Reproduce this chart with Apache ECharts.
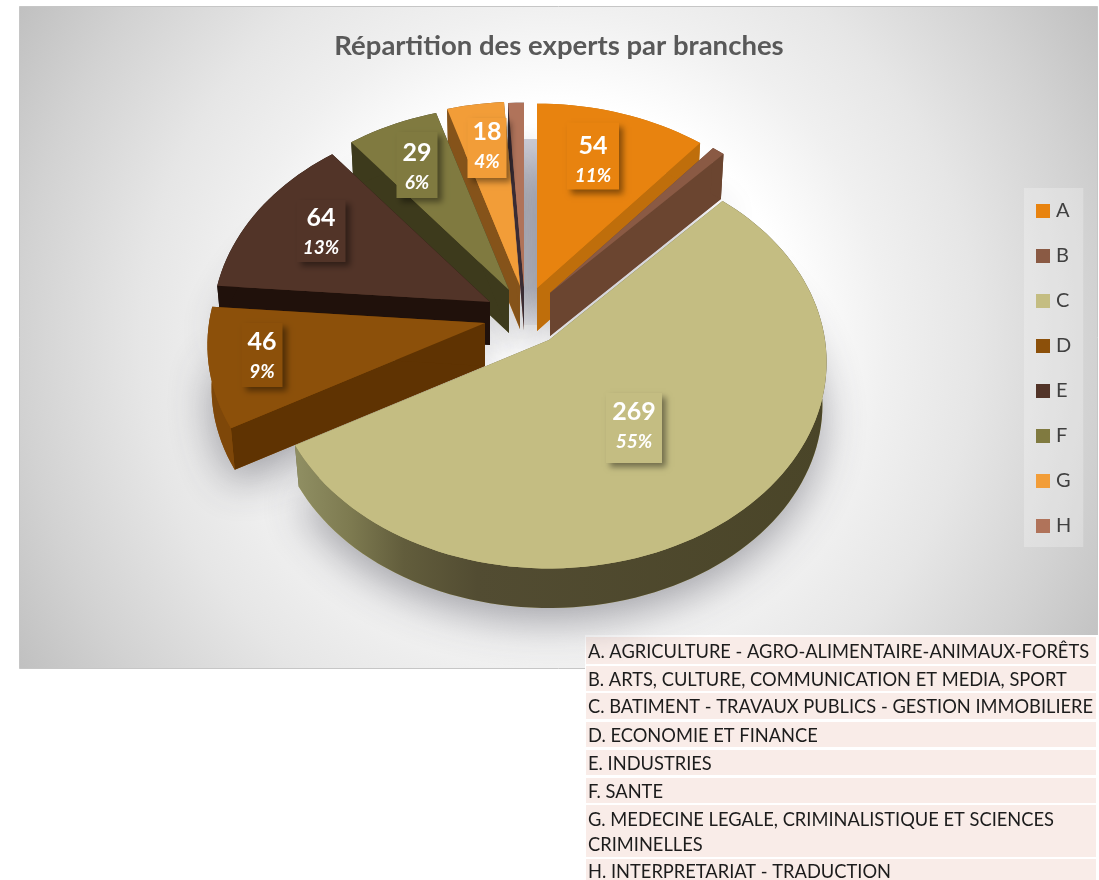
<!DOCTYPE html>
<html><head><meta charset="utf-8">
<style>html,body{margin:0;padding:0;background:#fff}#c{width:1099px;height:880px}</style>
<script src="https://cdn.jsdelivr.net/npm/echarts@6/dist/echarts.min.js"></script>
</head><body><div id="c"></div>
<script>
// ---- data ----
const categories = ['A','B','C','D','E','F','G','H'];
const values = [54,4,269,46,64,29,18,5];
const descriptions = [
 'A. AGRICULTURE - AGRO-ALIMENTAIRE-ANIMAUX-FORÊTS',
 'B. ARTS, CULTURE, COMMUNICATION ET MEDIA, SPORT',
 'C. BATIMENT - TRAVAUX PUBLICS - GESTION IMMOBILIERE',
 'D. ECONOMIE ET FINANCE',
 'E. INDUSTRIES',
 'F. SANTE',
 'G. MEDECINE LEGALE, CRIMINALISTIQUE ET SCIENCES\nCRIMINELLES',
 'H. INTERPRETARIAT - TRADUCTION'
];
const titleText = 'Répartition des experts par branches';
// ---- styles ----
const topColors  = ['#E8830F','#8A5A44','#C4BD82','#8C500A','#523428','#807A40','#F29D38','#B0735A'];
const sideColors = ['#BF6E0B','#6B4530','#6b6642','#5F3302','#20110B','#3D3A1C','#85531A','#3A2C34'];
const rimColors  = ['#BF6E0B','#6B4530','#6b6642','#7E4709','#20110B','#3D3A1C','#85531A','#3A2C34'];
const shifts = [[12,-12],[25,-7],[24,40],[-40,23],[-35,2],[-16,-10],[-5,-14],[-1,-13]];
const labelOffsets = [[56,-132],null,[85,88],[-223,32],[-169,-71],[-92,-125],[-33,-138],null];
const boxSizes = [[52,67],null,[56,70],[41,64],[49,62],[41,66],[39,60],null];
const textDy = [2,0,-4,-1,-1,0,-4,0];
const drawOrder = [7,6,5,4,3,0,1,2];
const PIE = {cx:525,cy:300,rx:276,ry:204,p:0.107,depth:43,base:0.985};

const total = values.reduce((a,b)=>a+b,0);
const startAngles = []; { let s=0; values.forEach(v=>{startAngles.push(s); s+=v/total*360;}); }

function proj(deg){ // unit circle angle (clockwise from the back) to screen offset
  const t=deg*Math.PI/180, d=1+PIE.p*Math.cos(t);
  return [PIE.rx*Math.sin(t)/d, -PIE.ry*Math.cos(t)/d];
}
function arc(a0,a1){ const n=Math.max(2,Math.ceil(Math.abs(a1-a0)/2)),o=[];
  for(let i=0;i<=n;i++) o.push(proj(a0+(a1-a0)*i/n)); return o; }
function sliceGeom(i,v){
  const a0=startAngles[i], a1=a0+v/total*360, [sx,sy]=shifts[i];
  const ox=PIE.cx+sx, oy=PIE.cy+sy;
  const T=q=>[ox+q[0],oy+q[1]], B=q=>[ox+q[0]*PIE.base,oy+q[1]*PIE.base+PIE.depth];
  const pts=arc(a0,a1);
  return {ox,oy,a0,a1,pts,T,B};
}
function renderShadow(params,api){
  const i=api.value(0), g=sliceGeom(i,values[i]);
  const outline=[[0,0]].concat(g.pts).map(g.B);
  return {type:'polygon',shape:{points:outline},
    style:{fill:topColors[i],shadowBlur:44,shadowOffsetX:0,shadowOffsetY:14,shadowColor:'rgba(50,50,65,0.45)'}};
}
function makeRender(i){
  return function(params,api){
    const v=api.value(0), g=sliceGeom(i,v), kids=[];
    const O=[0,0], first=g.pts[0], last=g.pts[g.pts.length-1];
    const side=sideColors[i];
    [first,last].forEach(q=>{
      kids.push({type:'polygon',shape:{points:[g.T(O),g.T(q),g.B(q),g.B(O)]},style:{fill:side}});
    });
    const fill = i===2 ? new echarts.graphic.LinearGradient(298,0,826,0,[
        {offset:0,color:'#8F8E62'},{offset:0.1,color:'#7d7a50'},{offset:0.2,color:'#625d3c'},
        {offset:0.34,color:'#524c32'},{offset:1,color:'#4a4528'}],true) : rimColors[i];
    kids.push({type:'polygon',shape:{points:g.pts.map(g.T).concat(g.pts.slice().reverse().map(g.B))},
      style:{fill:fill}});
    kids.push({type:'polygon',shape:{points:[g.T(O)].concat(g.pts.map(g.T))},style:{fill:topColors[i]}});
    const off=labelOffsets[i];
    if(off){
      const lx=g.ox+off[0], ly=g.oy+off[1], [bw,bh]=boxSizes[i], dy=textDy[i];
      kids.push({type:'rect',shape:{x:lx-bw/2,y:ly-bh/2,width:bw,height:bh},
        style:{fill:topColors[i],shadowBlur:6,shadowOffsetX:4,shadowOffsetY:4,shadowColor:'rgba(0,0,0,0.42)'}});
      kids.push({type:'text',x:lx,y:ly-12+dy,style:{text:String(v),fill:'#fff',align:'center',verticalAlign:'middle',
        font:'bold 25px Lato'}});
      kids.push({type:'text',x:lx,y:ly+18+dy,style:{text:Math.round(v/total*100)+'%',fill:'#fff',align:'center',verticalAlign:'middle',
        font:'italic bold 19px Lato'}});
    }
    return {type:'group',children:kids};
  };
}
const series=[{type:'custom',name:'ombre',coordinateSystem:'none',silent:true,
  data:categories.map((c,i)=>[i]),renderItem:renderShadow,animation:false}];
drawOrder.forEach(i=>series.push({type:'custom',name:categories[i],coordinateSystem:'none',silent:true,animation:false,
  itemStyle:{color:topColors[i]},data:[[values[i]]],renderItem:makeRender(i)}));

const rowTops=[637,666,693,722,750,778,805,859], rowH=[27,25,26,25,25,25,52,21];
const tableEls=[{type:'rect',shape:{x:585,y:635,width:514,height:245},style:{fill:'#fff'}}];
descriptions.forEach((d,i)=>{
  tableEls.push({type:'rect',shape:{x:586,y:rowTops[i],width:510,height:rowH[i]},style:{fill:'#F9ECE8'}});
  tableEls.push({type:'text',x:588,y:rowTops[i]+rowH[i]/2+1.5+(i===7?1:0),
    style:{text:d,fill:'#1c1c1c',font:'18.3px Lato',lineHeight:25,verticalAlign:'middle',align:'left'}});
});

const chart=echarts.init(document.getElementById('c'),null,{renderer:'canvas'});
chart.setOption({
  animation:false,
  title:{text:titleText,left:554,top:27,textAlign:'center',textStyle:{color:'#595959',fontFamily:'Lato',fontWeight:'bold',fontSize:27.5}},
  legend:{data:categories,orient:'vertical',left:1024,top:188,itemWidth:14,itemHeight:14,itemGap:25,
    padding:[13,12,11,12],backgroundColor:'rgba(255,255,255,0.25)',icon:'rect',selectedMode:false,itemStyle:{borderWidth:0},
    textStyle:{color:'#404040',fontFamily:'Lato',fontSize:20,lineHeight:19,padding:[0,0,0,1]}},
  graphic:[{type:'rect',shape:{x:19.5,y:6.5,width:1078,height:662},z:-10,
    style:{stroke:'#c6c6c6',lineWidth:1,fill:new echarts.graphic.RadialGradient(558,338,633,[
      {offset:0,color:'#ffffff'},{offset:0.37,color:'#ffffff'},{offset:0.52,color:'#f0f0f0'},{offset:0.66,color:'#e6e6e6'},{offset:0.85,color:'#d2d2d2'},{offset:1,color:'#c0c0c0'}],true)}},
    {type:'rect',shape:{x:523,y:139,width:14,height:186},z:-5,
     style:{fill:new echarts.graphic.LinearGradient(0,139,0,325,[
       {offset:0,color:'#cfd0d9'},{offset:0.8,color:'#cfd0d9'},{offset:1,color:'#f2f2f4'}],true)}},
    ].concat(tableEls),
  series:series
});
</script></body></html>
